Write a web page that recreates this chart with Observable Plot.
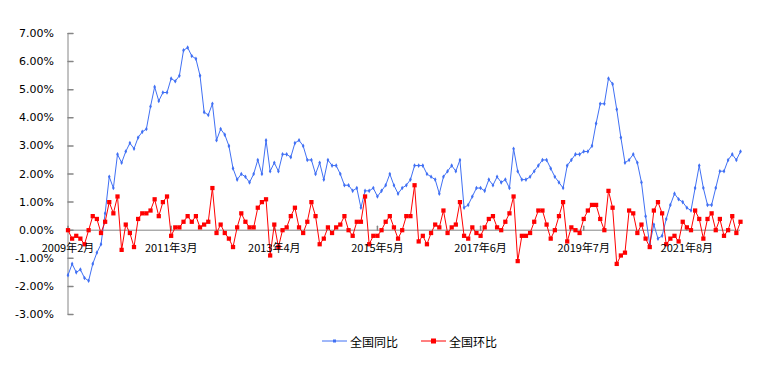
<!DOCTYPE html>
<html>
<head>
<meta charset="utf-8">
<script src="https://cdn.jsdelivr.net/npm/d3@7"></script>
<script src="https://cdn.jsdelivr.net/npm/@observablehq/plot@0.6"></script>
<style>
  body { margin: 0; background: #fff; }
  #chart svg { display: block; }
  .legend { display: flex; align-items: center; height: 32px; padding-left: 322px; font: 12px "Noto Sans CJK SC", sans-serif; color: #000; }
  .legend .item { display: flex; align-items: center; margin-right: 23px; }
  .legend svg { display: block; margin-right: 3px; }
</style>
</head>
<body>
<div id="chart"></div>
<script>
// 全国同比 (%), 2009年2月 – 2022年9月
const yoy = [
  -1.6,-1.2,-1.5,-1.4,-1.7,-1.8,-1.2,-0.8,-0.5,0.6,1.9,
  1.5,2.7,2.4,2.8,3.1,2.9,3.3,3.5,3.6,4.4,5.1,4.6,
  4.9,4.9,5.4,5.3,5.5,6.4,6.5,6.2,6.1,5.5,4.2,4.1,
  4.5,3.2,3.6,3.4,3.0,2.2,1.8,2.0,1.9,1.7,2.0,2.5,
  2.0,3.2,2.1,2.4,2.1,2.7,2.7,2.6,3.1,3.2,3.0,2.5,
  2.5,2.0,2.4,1.8,2.5,2.3,2.3,2.0,1.6,1.6,1.4,1.5,
  0.8,1.4,1.4,1.5,1.2,1.4,1.6,2.0,1.6,1.3,1.5,1.6,
  1.8,2.3,2.3,2.3,2.0,1.9,1.8,1.3,1.9,2.1,2.3,2.1,
  2.5,0.8,0.9,1.2,1.5,1.5,1.4,1.8,1.6,1.9,1.7,1.8,
  1.5,2.9,2.1,1.8,1.8,1.9,2.1,2.3,2.5,2.5,2.2,1.9,
  1.7,1.5,2.3,2.5,2.7,2.7,2.8,2.8,3.0,3.8,4.5,4.5,
  5.4,5.2,4.3,3.3,2.4,2.5,2.7,2.4,1.7,0.5,-0.5,0.2,
  -0.3,-0.2,0.4,0.9,1.3,1.1,1.0,0.8,0.7,1.5,2.3,1.5,
  0.9,0.9,1.5,2.1,2.1,2.5,2.7,2.5,2.8
];
// 全国环比 (%)
const mom = [
  0.0,-0.3,-0.2,-0.3,-0.5,0.0,0.5,0.4,-0.1,0.3,1.0,
  0.6,1.2,-0.7,0.2,-0.1,-0.6,0.4,0.6,0.6,0.7,1.1,0.5,
  1.0,1.2,-0.2,0.1,0.1,0.3,0.5,0.3,0.5,0.1,0.2,0.3,
  1.5,-0.1,0.2,-0.1,-0.3,-0.6,0.1,0.6,0.3,0.1,0.1,0.8,
  1.0,1.1,-0.9,0.2,-0.6,0.0,0.1,0.5,0.8,0.1,-0.1,0.3,
  1.0,0.5,-0.5,-0.3,0.1,-0.1,0.1,0.2,0.5,0.0,-0.2,0.3,
  0.3,1.2,-0.5,-0.2,-0.2,0.0,0.3,0.5,0.1,-0.3,0.0,0.5,
  0.5,1.6,-0.4,-0.2,-0.5,-0.1,0.2,0.1,0.7,-0.1,0.1,0.2,
  1.0,-0.2,-0.3,0.1,-0.1,-0.2,0.1,0.4,0.5,0.1,0.0,0.3,
  0.6,1.2,-1.1,-0.2,-0.2,-0.1,0.3,0.7,0.7,0.2,-0.3,0.0,
  0.5,1.0,-0.4,0.1,0.0,-0.1,0.4,0.7,0.9,0.9,0.4,0.0,
  1.4,0.8,-1.2,-0.9,-0.8,0.7,0.6,-0.1,0.2,-0.3,-0.6,0.7,
  1.0,0.6,-0.5,-0.3,-0.2,-0.4,0.3,0.1,0.0,0.7,0.4,-0.3,
  0.4,0.6,0.0,0.4,-0.2,0.0,0.5,-0.1,0.3
];
const xTickIndex = [0, 25, 50, 75, 100, 125, 150];
const xTickLabels = ["2009年2月","2011年3月","2013年4月","2015年5月","2017年6月","2019年7月","2021年8月"];
const yTicks = [-3,-2,-1,0,1,2,3,4,5,6,7];
const seriesNames = ["全国同比", "全国环比"];
const seriesColors = ["#4070F4", "#FF0000"];

const axisGray = "#868686";
const idx = d3.range(yoy.length);
const tickShape = { draw(context, l) { context.moveTo(0, 0); context.lineTo(0, -l); } };

const chart = Plot.plot({
  width: 774,
  height: 325,
  marginLeft: 67.5,
  marginRight: 34,
  marginTop: 33,
  marginBottom: 11,
  style: { fontFamily: "DejaVu Sans", fontSize: "11px", color: "#000", background: "#fff" },
  x: { domain: [0, yoy.length - 1], axis: null },
  y: { domain: [-3, 7], axis: null },
  marks: [
    Plot.axisY(yTicks, { anchor: "left", tickSize: 0, tickPadding: 14, tickFormat: d => d.toFixed(2) + "%", fill: "#000" }),
    Plot.ruleX([0], { stroke: axisGray }),
    Plot.vector(yTicks, { x: 0, y: d => d, length: 5, rotate: 90, anchor: "start", shape: tickShape, stroke: axisGray }),
    Plot.ruleY([0], { stroke: axisGray }),
    Plot.vector(xTickIndex, { x: d => d, y: 0, length: 4, rotate: 0, anchor: "start", shape: tickShape, stroke: axisGray }),
    Plot.line(idx, { x: i => i, y: i => yoy[i], stroke: seriesColors[0], strokeWidth: 1 }),
    Plot.dot(idx, { x: i => i, y: i => yoy[i], symbol: "diamond", r: 1.4, fill: seriesColors[0], stroke: "none" }),
    Plot.line(idx, { x: i => i, y: i => mom[i], stroke: seriesColors[1], strokeWidth: 1 }),
    Plot.dot(idx, { x: i => i, y: i => mom[i], symbol: "square", r: 2.4, fill: seriesColors[1], stroke: "none" }),
    Plot.text(xTickIndex, { x: d => d, y: 0, text: (d, i) => xTickLabels[i], dy: 18, fontSize: 11, fontFamily: "Noto Sans CJK SC", fill: "#000" })
  ]
});
document.getElementById("chart").appendChild(chart);

// legend
const legend = document.createElement("div");
legend.className = "legend";
seriesNames.forEach((name, k) => {
  const item = document.createElement("span");
  item.className = "item";
  const marker = k === 0
    ? `<rect x="11" y="2.5" width="3" height="3" fill="${seriesColors[k]}"/>`
    : `<rect x="10" y="1.5" width="5" height="5" fill="${seriesColors[k]}"/>`;
  item.innerHTML = `<svg width="25" height="8"><line x1="0" y1="4" x2="25" y2="4" stroke="${seriesColors[k]}" stroke-width="1"/>${marker}</svg><span>${name}</span>`;
  legend.appendChild(item);
});
document.body.appendChild(legend);
</script>
</body>
</html>
